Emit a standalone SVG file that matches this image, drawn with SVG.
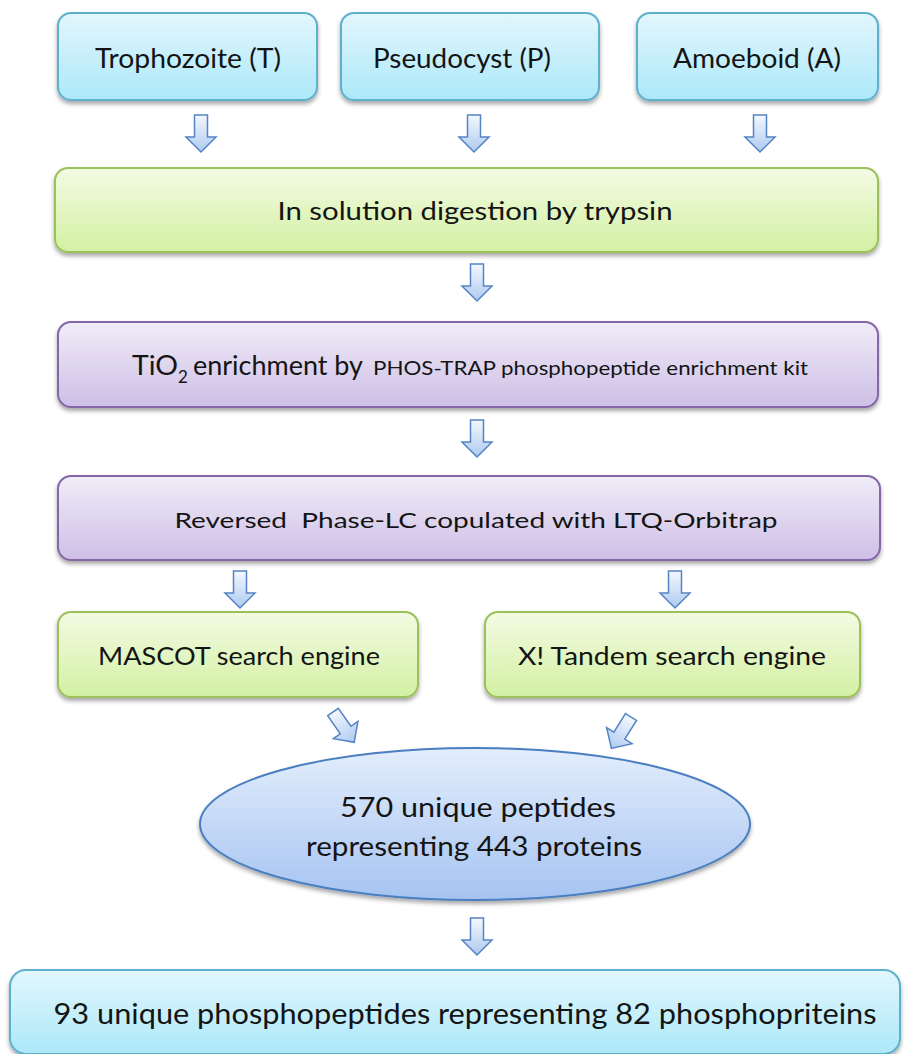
<svg xmlns="http://www.w3.org/2000/svg" width="905" height="1054" viewBox="0 0 905 1054">
  <defs>
    <linearGradient id="gBlue" x1="0" y1="0" x2="0" y2="1">
      <stop offset="0" stop-color="#e2f7fd"/>
      <stop offset="1" stop-color="#ace8f9"/>
    </linearGradient>
    <linearGradient id="gGreen" x1="0" y1="0" x2="0" y2="1">
      <stop offset="0" stop-color="#f3fbe3"/>
      <stop offset="1" stop-color="#d3f0a3"/>
    </linearGradient>
    <linearGradient id="gPurple" x1="0" y1="0" x2="0" y2="1">
      <stop offset="0" stop-color="#f1ecf8"/>
      <stop offset="1" stop-color="#cdbfe6"/>
    </linearGradient>
    <linearGradient id="gEllipse" x1="0" y1="0" x2="0" y2="1">
      <stop offset="0" stop-color="#e3eefc"/>
      <stop offset="1" stop-color="#a6c3f1"/>
    </linearGradient>
    <linearGradient id="gArrow" x1="0" y1="0" x2="0" y2="1">
      <stop offset="0" stop-color="#f4f8fe"/>
      <stop offset="1" stop-color="#aecaf0"/>
    </linearGradient>
    <filter id="shadow" x="-10%" y="-20%" width="120%" height="150%">
      <feDropShadow dx="0" dy="3" stdDeviation="2.2" flood-color="#000" flood-opacity="0.35"/>
    </filter>
    <!-- block arrow pointing down, origin at the tail centre -->
    <path id="arrow" d="M-6.5,0 H6.5 V22 H15 L0,37 L-15,22 H-6.5 Z"/>
  </defs>
  <style>
    .box { stroke-width: 2; filter: url(#shadow); }
    .blue { fill: url(#gBlue); stroke: #5fb0cc; }
    .green { fill: url(#gGreen); stroke: #9cc15a; }
    .purple { fill: url(#gPurple); stroke: #8467a6; }
    .oval { fill: url(#gEllipse); stroke: #4a7fc0; stroke-width: 2; filter: url(#shadow); }
    .arr { fill: url(#gArrow); stroke: #5584c4; stroke-width: 1.5; stroke-linejoin: miter; }
    text { font-family: Lato, "Liberation Sans", sans-serif; fill: #141414; }
    .c { text-anchor: middle; }
    .s { text-anchor: start; }
  </style>

  <!-- connectors -->
  <g id="connectors">
    <use href="#arrow" class="arr" transform="translate(201,115)"/>
    <use href="#arrow" class="arr" transform="translate(474,115)"/>
    <use href="#arrow" class="arr" transform="translate(760,115)"/>
    <use href="#arrow" class="arr" transform="translate(477,264)"/>
    <use href="#arrow" class="arr" transform="translate(477,420)"/>
    <use href="#arrow" class="arr" transform="translate(240,571)"/>
    <use href="#arrow" class="arr" transform="translate(675,571)"/>
    <use href="#arrow" class="arr" transform="translate(333,712) rotate(-35)"/>
    <use href="#arrow" class="arr" transform="translate(631,717) rotate(32)"/>
    <use href="#arrow" class="arr" transform="translate(477,918)"/>
  </g>

  <g id="trophozoite">
    <rect class="box blue" x="58" y="13" width="259" height="87" rx="13"/>
    <text class="c" x="188" y="68" font-size="27" textLength="186" lengthAdjust="spacingAndGlyphs">Trophozoite (T)</text>
  </g>
  <g id="pseudocyst">
    <rect class="box blue" x="341" y="13" width="258" height="87" rx="13"/>
    <text class="c" x="462" y="68" font-size="27" textLength="178" lengthAdjust="spacingAndGlyphs">Pseudocyst (P)</text>
  </g>
  <g id="amoeboid">
    <rect class="box blue" x="637" y="13" width="241" height="87" rx="13"/>
    <text class="c" x="757" y="68" font-size="27" textLength="168" lengthAdjust="spacingAndGlyphs">Amoeboid (A)</text>
  </g>

  <g id="digestion">
    <rect class="box green" x="55" y="168" width="823" height="84" rx="13"/>
    <text class="c" x="475" y="220" font-size="25" textLength="395" lengthAdjust="spacingAndGlyphs">In solution digestion by trypsin</text>
  </g>

  <g id="enrichment">
    <rect class="box purple" x="58" y="322" width="820" height="85" rx="13"/>
    <text class="s" x="132" y="375" font-size="26" textLength="46" lengthAdjust="spacingAndGlyphs">TiO</text>
    <text class="s" x="178" y="383" font-size="17">2</text>
    <text class="s" x="193" y="375" font-size="26" textLength="170" lengthAdjust="spacingAndGlyphs">enrichment by</text>
    <text class="s" x="373" y="375" font-size="20" textLength="435" lengthAdjust="spacingAndGlyphs">PHOS-TRAP phosphopeptide enrichment kit</text>
  </g>

  <g id="lc-ms">
    <rect class="box purple" x="58" y="476" width="822" height="84" rx="13"/>
    <text class="c" x="476" y="528" font-size="22" textLength="603" lengthAdjust="spacingAndGlyphs" xml:space="preserve">Reversed  Phase-LC copulated with LTQ-Orbitrap</text>
  </g>

  <g id="mascot">
    <rect class="box green" x="58" y="612" width="360" height="85" rx="13"/>
    <text class="c" x="239" y="665" font-size="25" textLength="282" lengthAdjust="spacingAndGlyphs">MASCOT search engine</text>
  </g>
  <g id="xtandem">
    <rect class="box green" x="485" y="612" width="375" height="85" rx="13"/>
    <text class="c" x="672" y="665" font-size="25" textLength="308" lengthAdjust="spacingAndGlyphs">X! Tandem search engine</text>
  </g>

  <g id="peptides">
    <ellipse class="oval" cx="475" cy="824" rx="275" ry="76"/>
    <text class="c" x="478" y="817" font-size="27" textLength="276" lengthAdjust="spacingAndGlyphs">570 unique peptides</text>
    <text class="c" x="474" y="856" font-size="27" textLength="336" lengthAdjust="spacingAndGlyphs">representing 443 proteins</text>
  </g>

  <g id="phosphopeptides">
    <rect class="box blue" x="10" y="970" width="890" height="84" rx="16"/>
    <text class="c" x="465" y="1024" font-size="29" textLength="823" lengthAdjust="spacingAndGlyphs">93 unique phosphopeptides representing 82 phosphopriteins</text>
  </g>
</svg>
